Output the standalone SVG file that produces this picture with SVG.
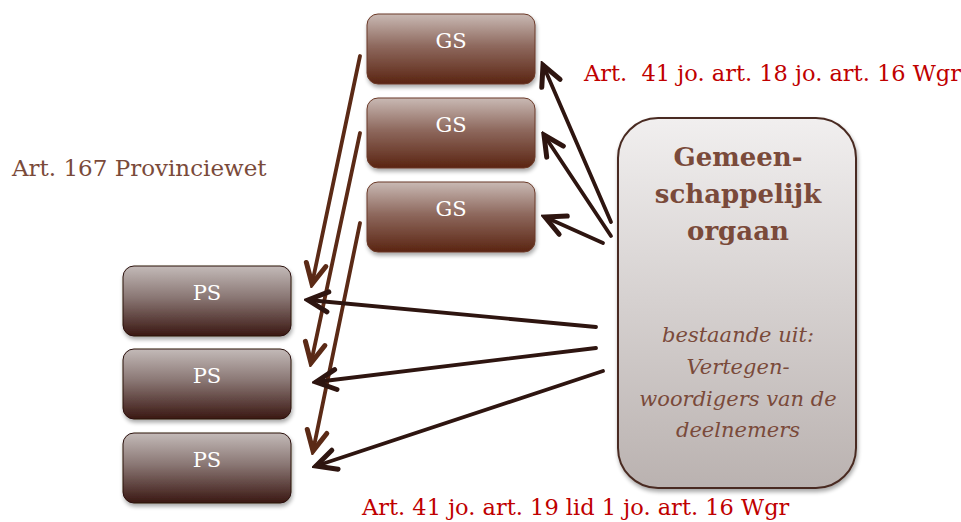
<svg xmlns="http://www.w3.org/2000/svg" width="961" height="522" viewBox="0 0 961 522">
  <defs>
    <linearGradient id="gsFill" x1="0" y1="0" x2="0" y2="1">
      <stop offset="0" stop-color="#c9b9b4"/>
      <stop offset="0.45" stop-color="#8f6a5f"/>
      <stop offset="1" stop-color="#5a2412"/>
    </linearGradient>
    <linearGradient id="psFill" x1="0" y1="0" x2="0" y2="1">
      <stop offset="0" stop-color="#c3bab8"/>
      <stop offset="0.45" stop-color="#8a7774"/>
      <stop offset="1" stop-color="#3a1712"/>
    </linearGradient>
    <linearGradient id="goFill" x1="0" y1="0" x2="0" y2="1">
      <stop offset="0" stop-color="#f1efef"/>
      <stop offset="1" stop-color="#bab2b0"/>
    </linearGradient>
    <filter id="shadow" x="-10%" y="-10%" width="125%" height="130%">
      <feGaussianBlur in="SourceAlpha" stdDeviation="2"/>
      <feOffset dx="1" dy="3"/>
      <feComponentTransfer><feFuncA type="linear" slope="0.35"/></feComponentTransfer>
      <feMerge><feMergeNode/><feMergeNode in="SourceGraphic"/></feMerge>
    </filter>
    <marker id="headBrown" viewBox="0 0 20 20" refX="17" refY="10" markerWidth="7.5" markerHeight="7.5" markerUnits="strokeWidth" orient="auto">
      <polyline points="3,3 17,10 3,17" fill="none" stroke="#5b2a16" stroke-width="3.5" stroke-linecap="round"/>
    </marker>
    <marker id="headDark" viewBox="0 0 20 20" refX="17" refY="10" markerWidth="7.5" markerHeight="7.5" markerUnits="strokeWidth" orient="auto">
      <polyline points="3,3 17,10 3,17" fill="none" stroke="#2e1510" stroke-width="3.5" stroke-linecap="round"/>
    </marker>
    <style>
      .gs { fill: url(#gsFill); stroke: #6b3a28; stroke-width: 1; filter: url(#shadow); }
      .ps { fill: url(#psFill); stroke: #2a100c; stroke-width: 1; filter: url(#shadow); }
      .go { fill: url(#goFill); stroke: #4a2c22; stroke-width: 2; filter: url(#shadow); }
      .box-label { font-family: "DejaVu Serif", "Liberation Serif", serif; font-size: 21px; fill: #ffffff; text-anchor: middle; }
      .title { font-family: "DejaVu Serif", "Liberation Serif", serif; font-size: 26px; font-weight: bold; fill: #7a4a3a; text-anchor: middle; }
      .sub { font-family: "DejaVu Serif", "Liberation Serif", serif; font-size: 21px; font-style: italic; fill: #7a4a3a; text-anchor: middle; }
      .ref-red { font-family: "DejaVu Serif", "Liberation Serif", serif; font-size: 22.5px; fill: #c00000; }
      .ref-brown { font-family: "DejaVu Serif", "Liberation Serif", serif; font-size: 23px; fill: #7a4a3a; }
      .c-brown { fill: none; stroke: #5b2a16; stroke-width: 3.8; stroke-linecap: round; marker-end: url(#headBrown); }
      .c-dark { fill: none; stroke: #2e1510; stroke-width: 3.8; stroke-linecap: round; marker-end: url(#headDark); }
    </style>
  </defs>

  <rect width="961" height="522" fill="#ffffff"/>

  <!-- Gedeputeerde Staten -->
  <g id="gs1"><rect class="gs" x="367" y="14" width="168" height="70" rx="11"/><text class="box-label" x="451" y="48">GS</text></g>
  <g id="gs2"><rect class="gs" x="367" y="98" width="168" height="70" rx="11"/><text class="box-label" x="451" y="132">GS</text></g>
  <g id="gs3"><rect class="gs" x="367" y="182" width="168" height="70" rx="11"/><text class="box-label" x="451" y="216">GS</text></g>

  <!-- Provinciale Staten -->
  <g id="ps1"><rect class="ps" x="123" y="266" width="168" height="70" rx="11"/><text class="box-label" x="207" y="300">PS</text></g>
  <g id="ps2"><rect class="ps" x="123" y="349" width="168" height="70" rx="11"/><text class="box-label" x="207" y="383">PS</text></g>
  <g id="ps3"><rect class="ps" x="123" y="433" width="168" height="70" rx="11"/><text class="box-label" x="207" y="467">PS</text></g>

  <!-- Gemeenschappelijk orgaan -->
  <g id="orgaan">
    <rect class="go" x="618" y="118" width="238" height="370" rx="40"/>
    <text class="title" x="738" y="166">Gemeen-</text>
    <text class="title" x="738" y="203">schappelijk</text>
    <text class="title" x="738" y="240">orgaan</text>
    <text class="sub" x="738" y="342">bestaande uit:</text>
    <text class="sub" x="738" y="374">Vertegen-</text>
    <text class="sub" x="738" y="406">woordigers van de</text>
    <text class="sub" x="738" y="437">deelnemers</text>
  </g>

  <!-- Connectors -->
  <g id="connectors">
    <line class="c-brown" x1="360" y1="56" x2="312" y2="284"/>
    <line class="c-brown" x1="360" y1="133" x2="311" y2="363"/>
    <line class="c-brown" x1="360" y1="223" x2="313" y2="451"/>
    <line class="c-dark" x1="611" y1="222" x2="543" y2="65"/>
    <line class="c-dark" x1="611" y1="236" x2="544" y2="135"/>
    <line class="c-dark" x1="603" y1="243" x2="545" y2="217"/>
    <line class="c-dark" x1="596" y1="327" x2="308" y2="300"/>
    <line class="c-dark" x1="596" y1="348" x2="316" y2="382"/>
    <line class="c-dark" x1="603" y1="371" x2="316" y2="466"/>
  </g>

  <!-- Legal references -->
  <text class="ref-red" x="584" y="81" xml:space="preserve">Art.  41 jo. art. 18 jo. art. 16 Wgr</text>
  <text class="ref-brown" x="12" y="176">Art. 167 Provinciewet</text>
  <text class="ref-red" x="362" y="515">Art. 41 jo. art. 19 lid 1 jo. art. 16 Wgr</text>
</svg>
